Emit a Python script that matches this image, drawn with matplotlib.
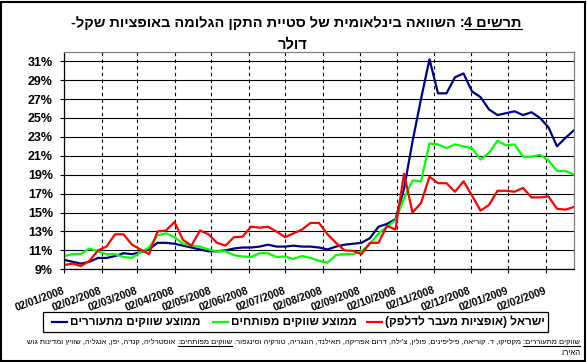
import numpy as np
import pandas as pd
import matplotlib
matplotlib.use('Agg')
import matplotlib.pyplot as plt
from matplotlib.lines import Line2D
from matplotlib.patches import Rectangle

plt.rcParams['font.family'] = ['Liberation Sans', 'DejaVu Sans']

# נתונים - סטיית תקן גלומה (%), שבועי
dates = pd.date_range('2008-01-02', periods=61, freq='7D')

emerging = [10.0, 9.8, 9.6, 9.8, 10.2, 10.2, 10.4, 10.7, 10.6, 10.8,
            11.1, 11.8, 11.8, 11.7, 11.5, 11.3, 11.1, 10.9, 10.9, 11.0,
            11.2, 11.3, 11.3, 11.4, 11.6, 11.4, 11.4, 11.5, 11.4, 11.4,
            11.3, 11.1, 11.4, 11.6, 11.7, 11.8, 12.3, 13.5, 13.8, 14.3,
            17.5, 22.5, 27.0, 31.2, 27.6, 27.6, 29.3, 29.7, 27.8, 27.2,
            25.9, 25.3, 25.5, 25.7, 25.3, 25.6, 25.0, 24.0, 22.0, 22.9, 23.7]

developed = [10.4, 10.6, 10.65, 11.2, 10.9, 10.6, 10.6, 10.3, 10.2, 10.8,
             11.3, 12.6, 12.8, 12.4, 11.7, 11.5, 11.4, 11.1, 10.9, 10.9,
             10.5, 10.35, 10.3, 10.7, 10.7, 10.3, 10.35, 10.1, 10.4, 10.2,
             9.9, 9.7, 10.5, 10.6, 10.6, 10.9, 11.7, 12.8, 13.5, 14.2,
             16.5, 18.4, 18.3, 22.3, 22.2, 21.8, 22.2, 22.0, 21.8, 20.6,
             21.3, 22.6, 22.1, 22.2, 20.9, 20.9, 21.1, 20.5, 19.4, 19.4, 19.0]

israel = [9.45, 9.6, 9.35, 9.9, 11.0, 11.4, 12.7, 12.7, 11.6, 11.1,
          10.6, 13.0, 13.1, 14.0, 12.1, 11.5, 13.1, 12.7, 11.8, 11.5,
          12.4, 12.45, 13.5, 13.4, 13.5, 13.0, 12.4, 12.8, 13.2, 13.9,
          13.9, 12.7, 11.8, 11.0, 10.95, 10.6, 11.8, 11.8, 13.6, 13.2,
          19.1, 15.0, 16.0, 18.8, 18.1, 18.1, 17.2, 18.3, 16.8, 15.2,
          15.8, 17.3, 17.3, 17.2, 17.6, 16.6, 16.6, 16.7, 15.4, 15.3, 15.6]

tick_labels = ['02/01/2008', '02/02/2008', '02/03/2008', '02/04/2008', '02/05/2008',
               '02/06/2008', '02/07/2008', '02/08/2008', '02/09/2008', '02/10/2008',
               '02/11/2008', '02/12/2008', '02/01/2009', '02/02/2009']
tick_dates = pd.to_datetime(tick_labels, format='%d/%m/%Y')

series_names = ['ממוצע שווקים מתעוררים', 'ממוצע שווקים מפותחים', 'ישראל (אופציות מעבר לדלפק)']
colors = ['#000080', '#00ff00', '#ff0000']

W, H = 587, 362


def rtl(s):
    # matplotlib לא עושה bidi - הופכים ידנית
    return s[::-1].translate(str.maketrans('()', ')('))


fig = plt.figure(figsize=(W / 100, H / 100), dpi=100)
renderer = fig.canvas.get_renderer()


def draw_runs(x_right, y_base, runs, size, weight='normal'):
    # runs: (טקסט, קו תחתון, רווח לפני) בסדר לוגי מימין לשמאל
    arts = []
    x = x_right
    for txt, under, gap in runs:
        x -= gap * size * 100 / 72
        t = fig.text(x / W, 1 - y_base / H, rtl(txt), ha='right', va='baseline',
                     fontsize=size, fontweight=weight)
        bb = t.get_window_extent(renderer=renderer)
        arts.append(t)
        if under:
            ln = Line2D([bb.x0 / W, bb.x1 / W], [1 - (y_base + 2) / H] * 2,
                        transform=fig.transFigure, color='black', lw=0.8)
            fig.add_artist(ln)
            arts.append(ln)
        x = bb.x0
    return arts, x_right - x


def fit_runs(x_right, y_base, runs, target, size, weight='normal'):
    arts, w = draw_runs(x_right, y_base, runs, size, weight)
    for a in arts:
        a.remove()
    return draw_runs(x_right, y_base, runs, size * target / w, weight)


ax = fig.add_axes([64 / W, 1 - 269.3 / H, (574 - 64) / W, (269.3 - 51.7) / H])
for vals, c in zip([emerging, developed, israel], colors):
    ax.plot(dates, vals, color=c, lw=1.6)

ax.set_xlim(dates[0], dates[-1])
ax.set_ylim(9, 32)
yt = np.arange(9, 32, 2)
ax.set_yticks(yt)
ax.set_yticklabels([f'{v}%' for v in yt], fontsize=9, fontweight='bold')
ax.set_xticks(tick_dates)
ax.set_xticklabels(tick_labels, rotation=20, ha='right', va='center',
                   rotation_mode='anchor', fontsize=7.5, fontweight='bold')
ax.tick_params(axis='x', length=3, width=0.8, pad=12)
ax.tick_params(axis='y', length=3, width=0.8, pad=5)
ax.grid(axis='y', color='black', lw=0.8)
ax.grid(axis='x', color='black', lw=0.8, linestyle=(0, (3, 3)))
ax.set_axisbelow(True)
for s in ['top', 'right']:
    ax.spines[s].set_color('#808080')
for s in ax.spines.values():
    s.set_linewidth(0.9)

# כותרת
fit_runs(522, 27, [('תרשים 4', True, 0),
                   (': השוואה בינלאומית של סטיית התקן הגלומה באופציות שקל-', False, 0)],
         451, 10.5, 'bold')
fig.text(293 / W, 1 - 48 / H, rtl('דולר'), ha='center', va='baseline',
         fontsize=10.5, fontweight='bold')

# מקרא
fig.add_artist(Rectangle((43 / W, 1 - 332 / H), 505 / W, 20 / H, transform=fig.transFigure,
                         fill=False, ec='black', lw=0.9))
line_x = [52, 213, 367]
for name, c, lx in zip(series_names, colors, line_x):
    fig.add_artist(Line2D([lx / W, (lx + 15) / W], [1 - 322 / H] * 2,
                          transform=fig.transFigure, color=c, lw=1.6))
    fig.text((lx + 18) / W, 1 - 322 / H, rtl(name), ha='left', va='center',
             fontsize=8.5, fontweight='bold')

# הערת שוליים
fit_runs(580, 344, [('שווקים מתעוררים:', True, 0),
                    ("מקסיקו, ד. קוריאה, פיליפינים, פולין, צ'ילה, דרום אפריקה, תאילנד, הונגריה, טורקיה וסינגפור.", False, 0.28),
                    ('שווקים מפותחים:', True, 0.28),
                    ('אוסטרליה, קנדה, יפן, אנגליה, שוויץ ומדינות גוש', False, 0.28)],
         555, 6)
draw_runs(580, 355, [('האירו.', False, 0)], 5.6)

# מסגרת חיצונית
fig.add_artist(Rectangle((1 / W, 1.5 / H), (W - 3) / W, (H - 3) / H, transform=fig.transFigure,
                         fill=False, ec='black', lw=1.5))

fig.savefig('out.png', dpi=100)
